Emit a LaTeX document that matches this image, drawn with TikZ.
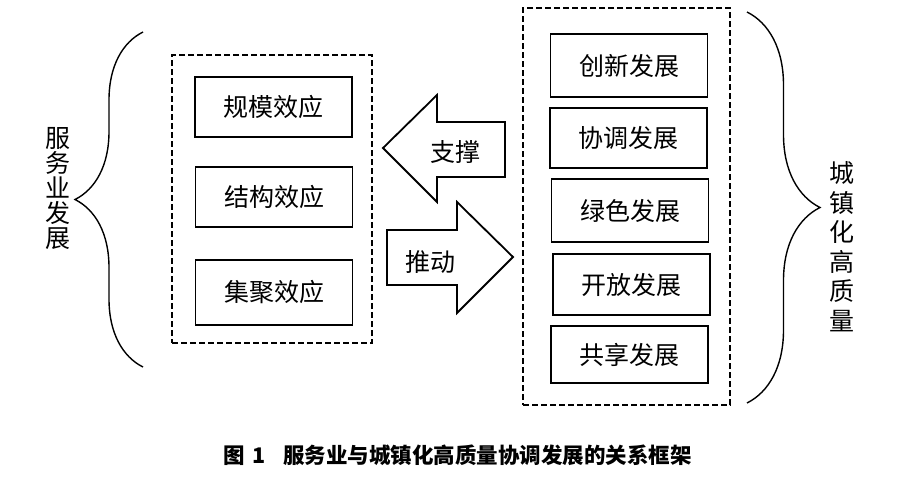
\documentclass[tikz,border=0pt]{standalone}
\usepackage{fontspec}
\setmainfont{Noto Sans CJK SC}
\usetikzlibrary{decorations.pathreplacing}

\begin{document}
\begin{tikzpicture}[x=1pt,y=-1pt,
	kuang/.style={draw,line width=1.8pt,minimum width=157pt,minimum height=60pt,inner sep=0pt,font=\fontsize{25}{25}\selectfont},
	xukuang/.style={draw,line width=1.9pt,dash pattern=on 6pt off 3pt,inner sep=0pt},
	kuohao/.style={decorate,decoration={brace,amplitude=#1},line width=1.4pt},
	jiantou/.style={line width=1.8pt,line join=miter},
	zi/.style={font=\fontsize{25}{25}\selectfont}]
			\useasboundingbox (0,0) rectangle (900,482);
			% dashed frames
			\node[xukuang,minimum width=200pt,minimum height=288pt] (zuokuang) at (272,199) {};
			\node[xukuang,minimum width=207pt,minimum height=397pt] (youkuang) at (626.5,206.5) {};
			% left boxes
			\node[kuang] (guimo) at (273.5,107) {规模效应};
			\node[kuang] (jiegou) at (274,197) {结构效应};
			\node[kuang,minimum height=65pt] (jiju) at (274,292.5) {集聚效应};
			% right boxes
			\node[kuang,minimum height=63pt] (chuangxin) at (629,65.5) {创新发展\hspace{10pt}};
			\node[kuang] (xietiao) at (628.5,138) {协调发展\hspace{10pt}};
			\node[kuang,minimum height=63pt] (lvse) at (630,210.5) {绿色发展\hspace{10pt}};
			\node[kuang,minimum height=61pt] (kaifang) at (631.5,284.5) {开放发展\hspace{10pt}};
			\node[kuang,minimum height=57pt] (gongxiang) at (629.5,354.5) {共享发展\hspace{10pt}};
			% arrows
			\draw[jiantou] (383,148) -- (437,95) -- (437,122) -- (505,122) -- (505,177) -- (437,177) -- (437,202) -- cycle;
			\node[zi] (zhicheng) at (455,152) {支撑};
			\draw[jiantou] (387,230) -- (457,230) -- (457,202) -- (513,257) -- (457,313) -- (457,285) -- (387,285) -- cycle;
			\node[zi] (tuidong) at (430,262) {推动};
			% braces
			\coordinate (zs) at (143,32);
			\coordinate (zx) at (143,367);
			\draw[kuohao=68pt] (zx) -- (zs);
			\coordinate (ys) at (747,12);
			\coordinate (yx) at (747,403);
			\draw[kuohao=73pt] (ys) -- (yx);
			\node[align=center,font=\fontsize{25}{25}\selectfont] (fuwuye) at (58,188.5) {服\\务\\业\\发\\展};
			\node[align=center,font=\fontsize{25}{29.5}\selectfont] (chengzhen) at (842,246.5) {城\\镇\\化\\高\\质\\量};
			% caption
			\node[font=\fontsize{21.5}{21.5}\selectfont\bfseries] (tuming) at (457.5,455) {图\hspace{8pt}1\hspace{17pt}服务业与城镇化高质量协调发展的关系框架};
		\end{tikzpicture}
\end{document}
